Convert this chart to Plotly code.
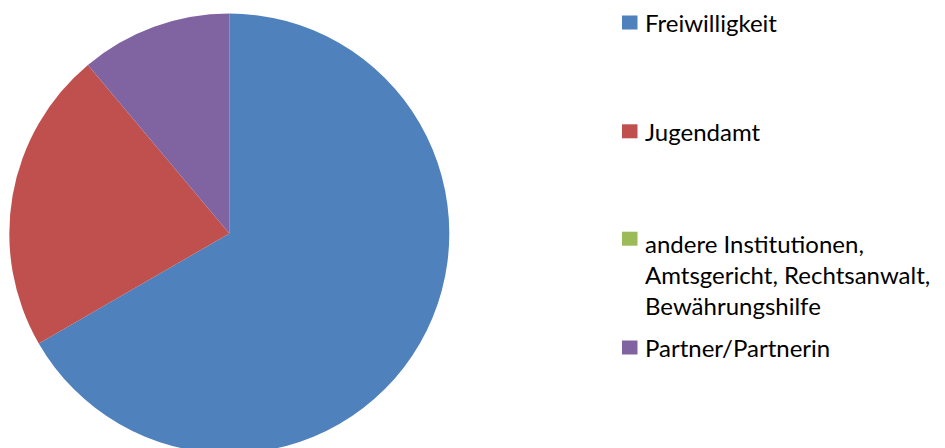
import plotly.graph_objects as go

labels = ["Freiwilligkeit", "Jugendamt",
          "andere Institutionen,<br>Amtsgericht, Rechtsanwalt,<br>Bewährungshilfe",
          "Partner/Partnerin"]
values = [6, 2, 0, 1]
colors = ["#4F81BD", "#C0504D", "#9BBB59", "#8064A2"]
legend_text_y_px = [14.5, 123.5, 266, 339.5]    # vertical centre of each legend label
legend_square_y_px = [14.5, 123.3, 230.7, 339.5]

W, H = 945, 448
fig = go.Figure(go.Pie(
    labels=labels, values=values, sort=False, direction="clockwise", rotation=0,
    marker=dict(colors=colors, line=dict(width=0)),
    textinfo="none", hoverinfo="label+value", showlegend=False,
    domain=dict(x=[1.3 / W, 441.3 / W], y=[1 - 445.5 / H, 1 - 5.5 / H]),
))

font = dict(family="Lato, Open Sans, sans-serif", size=24, color="#000000")
shapes, annos = [], []
for lab, col, yt, ys in zip(labels, colors, legend_text_y_px, legend_square_y_px):
    shapes.append(dict(type="rect", xref="paper", yref="paper",
                       x0=614 / W, x1=629.5 / W,
                       y0=1 - (ys + 7) / H, y1=1 - (ys - 7) / H,
                       fillcolor=col, line=dict(width=0)))
    annos.append(dict(text=lab, xref="paper", yref="paper", x=634.7 / W, y=1 - yt / H,
                      xanchor="left", yanchor="middle", align="left",
                      showarrow=False, font=font))

fig.update_layout(width=W, height=H, margin=dict(l=0, r=0, t=0, b=0),
                  paper_bgcolor="white", plot_bgcolor="white",
                  shapes=shapes, annotations=annos)
fig.write_html("out.html")
